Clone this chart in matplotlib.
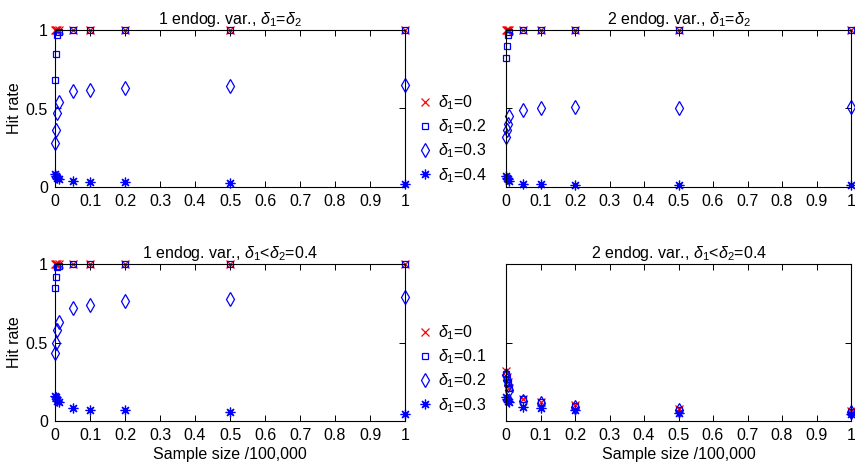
import matplotlib
matplotlib.use("Agg")
import matplotlib.pyplot as plt
from matplotlib.lines import Line2D

plt.rcParams['font.family'] = ['Liberation Sans', 'DejaVu Sans']
plt.rcParams['mathtext.fontset'] = 'custom'
plt.rcParams['mathtext.rm'] = 'Liberation Sans'
plt.rcParams['mathtext.it'] = 'Liberation Sans:italic'
plt.rcParams['font.size'] = 11

# Sample sizes (in units of 100,000)
sample_size = [0.001, 0.002, 0.005, 0.01, 0.05, 0.1, 0.2, 0.5, 1]

# Hit rates: 1 endogenous variable, delta1 = delta2
tl_d0 = [1, 1, 1, 1, 1, 1, 1, 1, 1]
tl_d1 = [0.68, 0.85, 0.97, 0.99, 1, 1, 1, 1, 1]
tl_d2 = [0.28, 0.36, 0.47, 0.54, 0.61, 0.62, 0.63, 0.645, 0.65]
tl_d3 = [0.08, 0.07, 0.06, 0.05, 0.04, 0.03, 0.03, 0.025, 0.02]

# Hit rates: 2 endogenous variables, delta1 = delta2
tr_d0 = [1, 1, 1, 1, 1, 1, 1, 1, 1]
tr_d1 = [0.82, 0.90, 0.97, 0.99, 1, 1, 1, 1, 1]
tr_d2 = [0.32, 0.36, 0.40, 0.45, 0.49, 0.50, 0.51, 0.50, 0.51]
tr_d3 = [0.07, 0.06, 0.05, 0.04, 0.02, 0.02, 0.01, 0.01, 0.01]

# Hit rates: 1 endogenous variable, delta1 < delta2 = 0.4
bl_d0 = [1, 1, 1, 1, 1, 1, 1, 1, 1]
bl_d1 = [0.845, 0.92, 0.98, 0.99, 1, 1, 1, 1, 1]
bl_d2 = [0.43, 0.50, 0.58, 0.63, 0.72, 0.74, 0.765, 0.78, 0.79]
bl_d3 = [0.16, 0.15, 0.13, 0.12, 0.08, 0.07, 0.07, 0.055, 0.045]

# Hit rates: 2 endogenous variables, delta1 < delta2 = 0.4
br_d0 = [0.32, 0.28, 0.25, 0.21, 0.14, 0.12, 0.10, 0.075, 0.065]
br_d1 = [0.30, 0.27, 0.24, 0.21, 0.14, 0.12, 0.095, 0.07, 0.06]
br_d2 = [0.29, 0.26, 0.23, 0.20, 0.13, 0.115, 0.09, 0.07, 0.06]
br_d3 = [0.15, 0.14, 0.13, 0.12, 0.09, 0.08, 0.07, 0.05, 0.045]

titles = [r"1 endog. var., $\delta_1$=$\delta_2$",
          r"2 endog. var., $\delta_1$=$\delta_2$",
          r"1 endog. var., $\delta_1$<$\delta_2$=0.4",
          r"2 endog. var., $\delta_1$<$\delta_2$=0.4"]
top_labels = [r"$\delta_1$=0", r"$\delta_1$=0.2", r"$\delta_1$=0.3", r"$\delta_1$=0.4"]
bottom_labels = [r"$\delta_1$=0", r"$\delta_1$=0.1", r"$\delta_1$=0.2", r"$\delta_1$=0.3"]
xticks = [0, 0.1, 0.2, 0.3, 0.4, 0.5, 0.6, 0.7, 0.8, 0.9, 1]
xticklabels = ["0", "0.1", "0.2", "0.3", "0.4", "0.5", "0.6", "0.7", "0.8", "0.9", "1"]
yticks = [0, 0.5, 1]
yticklabels = ["0", "0.5", "1"]

asterisk = (8, 2, 0)
styles = [
    dict(marker='x', color='red', ms=5.5, mew=0.9, ls='none'),
    dict(marker='s', color='blue', mfc='none', ms=4.5, mew=0.9, ls='none'),
    dict(marker='d', color='blue', mfc='none', ms=7.5, mew=0.9, ls='none'),
    dict(marker=asterisk, color='blue', ms=7, mew=0.9, ls='none'),
]

fig = plt.figure(figsize=(8.55, 4.73), dpi=100)
W, H = 855.0, 473.0
boxes = [
    (55, 30, 405, 187),
    (506, 30, 851, 187),
    (55, 264, 405, 421),
    (506, 264, 851, 421),
]
data = [
    [tl_d0, tl_d1, tl_d2, tl_d3],
    [tr_d0, tr_d1, tr_d2, tr_d3],
    [bl_d0, bl_d1, bl_d2, bl_d3],
    [br_d0, br_d1, br_d2, br_d3],
]

for i, (l, t, r, b) in enumerate(boxes):
    ax = fig.add_axes([l / W, 1 - b / H, (r - l) / W, (b - t) / H])
    for series, st in zip(data[i], styles):
        ax.plot(sample_size, series, clip_on=False, **st)
    ax.set_xlim(0, 1)
    ax.set_ylim(0, 1)
    ax.set_xticks(xticks)
    ax.set_xticklabels(xticklabels)
    ax.set_yticks(yticks)
    if i % 2 == 0:
        ax.set_yticklabels(yticklabels)
    else:
        ax.set_yticklabels([])
    ax.tick_params(direction='in', length=4, width=0.7, top=True, right=True,
                   labelsize=11.5, pad=5)
    for sp in ax.spines.values():
        sp.set_linewidth(0.8)
    ax.set_title(titles[i], fontsize=11.5, pad=4)
    if i % 2 == 0:
        ax.set_ylabel("Hit rate", fontsize=11.5, labelpad=3)
    if i >= 2:
        ax.set_xlabel("Sample size /100,000", fontsize=11.5, labelpad=3)

handles = [Line2D([], [], **st) for st in styles]
fig.legend(handles, top_labels, loc='center left', bbox_to_anchor=(412 / W, 1 - 139 / H),
           frameon=False, fontsize=11.5, handlelength=0.8, handletextpad=0.4,
           labelspacing=0.35, borderaxespad=0)
fig.legend(handles, bottom_labels, loc='center left', bbox_to_anchor=(412 / W, 1 - 369 / H),
           frameon=False, fontsize=11.5, handlelength=0.8, handletextpad=0.4,
           labelspacing=0.35, borderaxespad=0)

fig.savefig("out.png", dpi=100)
